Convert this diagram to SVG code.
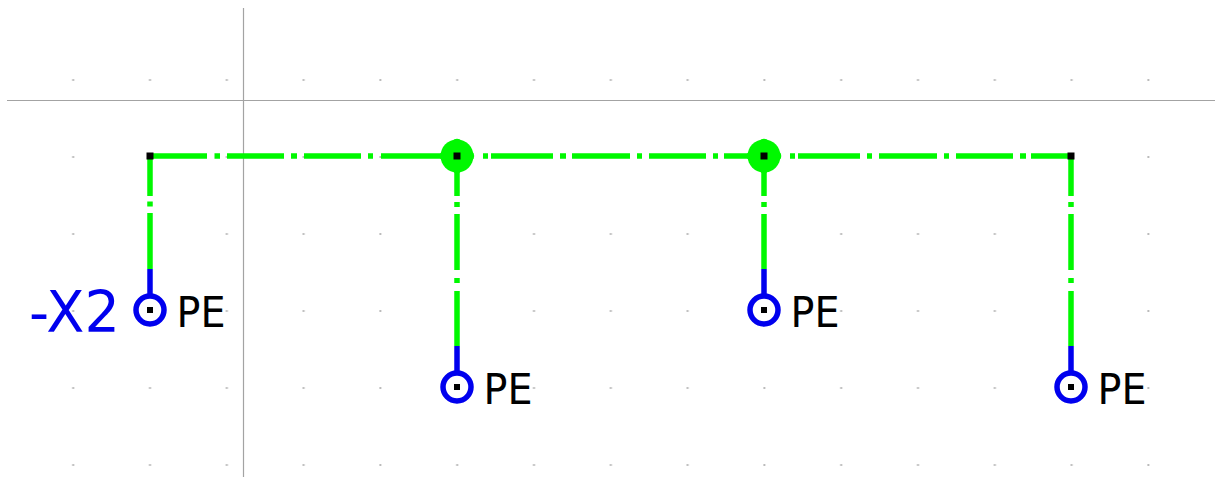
<svg xmlns="http://www.w3.org/2000/svg" width="1215" height="477" viewBox="0 0 1215 477">
<style>
.axis{stroke:#a3a3a3;stroke-width:1.2;fill:none}
.wire{stroke:#00f800;stroke-width:5.500;fill:none}
.stub{stroke:#0000ee;stroke-width:5.500;fill:none}
.ring{stroke:#0000ee;stroke-width:5.500;fill:#fff}
.pin{fill:#000}
.dotj{fill:#00f800}
.pe{font-family:"DejaVu Sans",sans-serif;font-size:43px;fill:#000}
.ref{font-family:"DejaVu Sans",sans-serif;font-size:57px;fill:#0000ee}
</style>
<defs>
<pattern id="grid" patternUnits="userSpaceOnUse" x="0" y="2" width="76.8" height="77">
<rect x="72.2" y="0.5" width="2" height="1" fill="#777"/>
</pattern>
<g id="terminal">
<path class="stub" d="M0 -41V-14"/>
<circle class="ring" r="14"/>
<rect class="pin" x="-3" y="-3" width="6" height="6"/>
</g>
<g id="junction">
<circle class="dotj" r="16.500"/>
<path class="dotj" d="M-3 -16.500Q0 -18 3 -16.500V16.500Q0 18 -3 16.500ZM-16.500 -3Q-18 0 -16.500 3H16.500Q18 0 16.500 -3Z"/>
<rect class="pin" x="-3.500" y="-3.500" width="7" height="7"/>
</g>
</defs>
<rect width="1215" height="477" fill="#fff"/>
<rect id="dots" x="0" y="60" width="1215" height="417" fill="url(#grid)"/>
<g id="axes">
<path class="axis" d="M7 100.500H1215M243.500 8V477"/>
</g>
<g id="connectors">
<path class="wire" d="M150 156H207M214.500 156H220M227 156H284M291 156H297M304 156H361M368 156H373M381 156H457"/>
<path class="wire" d="M483 156H488M491 156H553M560 156H566M572 156H630M637 156H642M649 156H706M713 156H718M724 156H764"/>
<path class="wire" d="M790 156H795M798 156H860M867 156H872M879 156H937M944 156H949M956 156H1013M1020 156H1026M1031 156H1071"/>
<path class="wire" d="M150 156V196M150 201.500V206.500M150 213V269"/>
<path class="wire" d="M457 156V196M457 202V207M457 214V270M457 278V283M457 291V346"/>
<path class="wire" d="M764 156V196M764 202V207M764 214V269"/>
<path class="wire" d="M1071 156V196M1071 202V207M1071 214V270M1071 278V283M1071 291V346"/>
</g>
<g id="corner-left"><rect class="pin" x="146.500" y="152.500" width="7" height="7"/></g>
<g id="corner-right"><rect class="pin" x="1067.500" y="152.500" width="7" height="7"/></g>
<use id="junction-1" href="#junction" x="457" y="156"/>
<use id="junction-2" href="#junction" x="764" y="156"/>
<g id="x2-pe-1"><use href="#terminal" x="150" y="310"/><text class="pe" x="176.500" y="327" textLength="49" lengthAdjust="spacingAndGlyphs">PE</text></g>
<g id="x2-pe-2"><use href="#terminal" x="457" y="387"/><text class="pe" x="483.500" y="404" textLength="49" lengthAdjust="spacingAndGlyphs">PE</text></g>
<g id="x2-pe-3"><use href="#terminal" x="764" y="310"/><text class="pe" x="790.500" y="327" textLength="49" lengthAdjust="spacingAndGlyphs">PE</text></g>
<g id="x2-pe-4"><use href="#terminal" x="1071" y="387"/><text class="pe" x="1097.500" y="404" textLength="49" lengthAdjust="spacingAndGlyphs">PE</text></g>
<g id="x2-label"><text class="ref" x="29" y="332" textLength="91" lengthAdjust="spacingAndGlyphs">-X2</text></g>
</svg>
